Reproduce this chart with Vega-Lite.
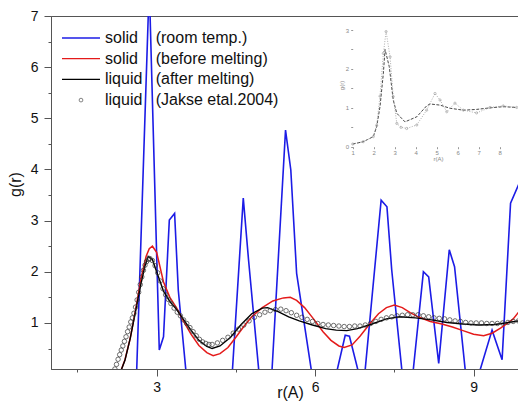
{
  "$schema": "https://vega.github.io/schema/vega-lite/v6.json",
  "width": 468,
  "height": 353,
  "autosize": "none",
  "padding": {"left": 51, "top": 16, "right": 0, "bottom": 32},
  "background": "white",
  "config": {"font": "Liberation Sans", "view": {"stroke": "#555", "strokeWidth": 1}, "axis": {"grid": false, "labelFont": "Liberation Sans", "titleFont": "Liberation Sans"}, "legend": {"labelFont": "Liberation Sans"}},
  "datasets": {
    "lines": [
      {"s": "solid (room temp.)", "r": 2.62, "g": 0},
      {"s": "solid (room temp.)", "r": 2.86, "g": 7.6},
      {"s": "solid (room temp.)", "r": 3.05, "g": 0.47},
      {"s": "solid (room temp.)", "r": 3.13, "g": 0.73},
      {"s": "solid (room temp.)", "r": 3.24, "g": 3.01},
      {"s": "solid (room temp.)", "r": 3.34, "g": 3.14},
      {"s": "solid (room temp.)", "r": 3.41, "g": 1.64},
      {"s": "solid (room temp.)", "r": 3.56, "g": 0},
      {"s": "solid (room temp.)", "r": 4.43, "g": 0},
      {"s": "solid (room temp.)", "r": 4.64, "g": 3.44},
      {"s": "solid (room temp.)", "r": 4.74, "g": 2.23},
      {"s": "solid (room temp.)", "r": 4.94, "g": 0},
      {"s": "solid (room temp.)", "r": 5.18, "g": 0},
      {"s": "solid (room temp.)", "r": 5.44, "g": 4.77},
      {"s": "solid (room temp.)", "r": 5.54, "g": 3.99},
      {"s": "solid (room temp.)", "r": 5.65, "g": 1.97},
      {"s": "solid (room temp.)", "r": 5.94, "g": 0},
      {"s": "solid (room temp.)", "r": 6.40, "g": 0},
      {"s": "solid (room temp.)", "r": 6.57, "g": 0.76},
      {"s": "solid (room temp.)", "r": 6.65, "g": 0.74},
      {"s": "solid (room temp.)", "r": 6.83, "g": 0},
      {"s": "solid (room temp.)", "r": 6.94, "g": 0},
      {"s": "solid (room temp.)", "r": 7.25, "g": 3.40},
      {"s": "solid (room temp.)", "r": 7.36, "g": 3.27},
      {"s": "solid (room temp.)", "r": 7.45, "g": 2.04},
      {"s": "solid (room temp.)", "r": 7.65, "g": 0},
      {"s": "solid (room temp.)", "r": 7.85, "g": 0},
      {"s": "solid (room temp.)", "r": 8.05, "g": 2.00},
      {"s": "solid (room temp.)", "r": 8.15, "g": 1.90},
      {"s": "solid (room temp.)", "r": 8.34, "g": 0.21},
      {"s": "solid (room temp.)", "r": 8.54, "g": 2.43},
      {"s": "solid (room temp.)", "r": 8.64, "g": 2.10},
      {"s": "solid (room temp.)", "r": 8.85, "g": 0},
      {"s": "solid (room temp.)", "r": 9.10, "g": 0},
      {"s": "solid (room temp.)", "r": 9.35, "g": 0.86},
      {"s": "solid (room temp.)", "r": 9.54, "g": 0.28},
      {"s": "solid (room temp.)", "r": 9.70, "g": 3.34},
      {"s": "solid (room temp.)", "r": 9.86, "g": 3.72},
      {"s": "solid (before melting)", "r": 2.30, "g": 0},
      {"s": "solid (before melting)", "r": 2.40, "g": 0.28},
      {"s": "solid (before melting)", "r": 2.50, "g": 0.70},
      {"s": "solid (before melting)", "r": 2.60, "g": 1.25},
      {"s": "solid (before melting)", "r": 2.70, "g": 1.85},
      {"s": "solid (before melting)", "r": 2.80, "g": 2.30},
      {"s": "solid (before melting)", "r": 2.86, "g": 2.45},
      {"s": "solid (before melting)", "r": 2.92, "g": 2.50},
      {"s": "solid (before melting)", "r": 3.00, "g": 2.38},
      {"s": "solid (before melting)", "r": 3.13, "g": 1.80},
      {"s": "solid (before melting)", "r": 3.25, "g": 1.50},
      {"s": "solid (before melting)", "r": 3.38, "g": 1.29},
      {"s": "solid (before melting)", "r": 3.50, "g": 1.05},
      {"s": "solid (before melting)", "r": 3.65, "g": 0.78},
      {"s": "solid (before melting)", "r": 3.80, "g": 0.56},
      {"s": "solid (before melting)", "r": 3.95, "g": 0.42},
      {"s": "solid (before melting)", "r": 4.07, "g": 0.36},
      {"s": "solid (before melting)", "r": 4.20, "g": 0.40},
      {"s": "solid (before melting)", "r": 4.35, "g": 0.52},
      {"s": "solid (before melting)", "r": 4.50, "g": 0.72},
      {"s": "solid (before melting)", "r": 4.65, "g": 0.93},
      {"s": "solid (before melting)", "r": 4.80, "g": 1.12},
      {"s": "solid (before melting)", "r": 5.00, "g": 1.30},
      {"s": "solid (before melting)", "r": 5.20, "g": 1.43},
      {"s": "solid (before melting)", "r": 5.40, "g": 1.49},
      {"s": "solid (before melting)", "r": 5.53, "g": 1.50},
      {"s": "solid (before melting)", "r": 5.65, "g": 1.44},
      {"s": "solid (before melting)", "r": 5.80, "g": 1.30},
      {"s": "solid (before melting)", "r": 5.97, "g": 1.08},
      {"s": "solid (before melting)", "r": 6.15, "g": 0.83},
      {"s": "solid (before melting)", "r": 6.30, "g": 0.66},
      {"s": "solid (before melting)", "r": 6.45, "g": 0.55},
      {"s": "solid (before melting)", "r": 6.55, "g": 0.52},
      {"s": "solid (before melting)", "r": 6.70, "g": 0.57},
      {"s": "solid (before melting)", "r": 6.85, "g": 0.74},
      {"s": "solid (before melting)", "r": 7.04, "g": 0.99},
      {"s": "solid (before melting)", "r": 7.20, "g": 1.18},
      {"s": "solid (before melting)", "r": 7.35, "g": 1.30},
      {"s": "solid (before melting)", "r": 7.50, "g": 1.35},
      {"s": "solid (before melting)", "r": 7.65, "g": 1.30},
      {"s": "solid (before melting)", "r": 7.80, "g": 1.20},
      {"s": "solid (before melting)", "r": 7.95, "g": 1.12},
      {"s": "solid (before melting)", "r": 8.18, "g": 1.03},
      {"s": "solid (before melting)", "r": 8.40, "g": 0.98},
      {"s": "solid (before melting)", "r": 8.60, "g": 0.92},
      {"s": "solid (before melting)", "r": 8.80, "g": 0.85},
      {"s": "solid (before melting)", "r": 9.00, "g": 0.78},
      {"s": "solid (before melting)", "r": 9.19, "g": 0.75},
      {"s": "solid (before melting)", "r": 9.35, "g": 0.80},
      {"s": "solid (before melting)", "r": 9.51, "g": 0.90},
      {"s": "solid (before melting)", "r": 9.65, "g": 1.00},
      {"s": "solid (before melting)", "r": 9.75, "g": 1.08},
      {"s": "solid (before melting)", "r": 9.86, "g": 1.22},
      {"s": "liquid (after melting)", "r": 2.30, "g": 0},
      {"s": "liquid (after melting)", "r": 2.40, "g": 0.27},
      {"s": "liquid (after melting)", "r": 2.50, "g": 0.70},
      {"s": "liquid (after melting)", "r": 2.60, "g": 1.22},
      {"s": "liquid (after melting)", "r": 2.70, "g": 1.75},
      {"s": "liquid (after melting)", "r": 2.78, "g": 2.12},
      {"s": "liquid (after melting)", "r": 2.84, "g": 2.30},
      {"s": "liquid (after melting)", "r": 2.92, "g": 2.24},
      {"s": "liquid (after melting)", "r": 3.00, "g": 2.00},
      {"s": "liquid (after melting)", "r": 3.13, "g": 1.62},
      {"s": "liquid (after melting)", "r": 3.25, "g": 1.42},
      {"s": "liquid (after melting)", "r": 3.38, "g": 1.26},
      {"s": "liquid (after melting)", "r": 3.50, "g": 1.08},
      {"s": "liquid (after melting)", "r": 3.65, "g": 0.86},
      {"s": "liquid (after melting)", "r": 3.80, "g": 0.66},
      {"s": "liquid (after melting)", "r": 3.95, "g": 0.54},
      {"s": "liquid (after melting)", "r": 4.05, "g": 0.50},
      {"s": "liquid (after melting)", "r": 4.20, "g": 0.55},
      {"s": "liquid (after melting)", "r": 4.40, "g": 0.72},
      {"s": "liquid (after melting)", "r": 4.60, "g": 0.97},
      {"s": "liquid (after melting)", "r": 4.80, "g": 1.18},
      {"s": "liquid (after melting)", "r": 5.00, "g": 1.29},
      {"s": "liquid (after melting)", "r": 5.10, "g": 1.30},
      {"s": "liquid (after melting)", "r": 5.30, "g": 1.22},
      {"s": "liquid (after melting)", "r": 5.50, "g": 1.12},
      {"s": "liquid (after melting)", "r": 5.70, "g": 1.04},
      {"s": "liquid (after melting)", "r": 5.95, "g": 0.96},
      {"s": "liquid (after melting)", "r": 6.20, "g": 0.89},
      {"s": "liquid (after melting)", "r": 6.40, "g": 0.86},
      {"s": "liquid (after melting)", "r": 6.60, "g": 0.85},
      {"s": "liquid (after melting)", "r": 6.80, "g": 0.89},
      {"s": "liquid (after melting)", "r": 7.05, "g": 0.97},
      {"s": "liquid (after melting)", "r": 7.35, "g": 1.08},
      {"s": "liquid (after melting)", "r": 7.60, "g": 1.12},
      {"s": "liquid (after melting)", "r": 7.90, "g": 1.10},
      {"s": "liquid (after melting)", "r": 8.20, "g": 1.06},
      {"s": "liquid (after melting)", "r": 8.50, "g": 1.01},
      {"s": "liquid (after melting)", "r": 8.80, "g": 0.98},
      {"s": "liquid (after melting)", "r": 9.10, "g": 0.96},
      {"s": "liquid (after melting)", "r": 9.40, "g": 0.97},
      {"s": "liquid (after melting)", "r": 9.60, "g": 1.00},
      {"s": "liquid (after melting)", "r": 9.86, "g": 1.04}
    ],
    "jakse": [
      {"s": "liquid (Jakse etal.2004)", "r": 2.21, "g": 0.10},
      {"s": "liquid (Jakse etal.2004)", "r": 2.24, "g": 0.19},
      {"s": "liquid (Jakse etal.2004)", "r": 2.27, "g": 0.29},
      {"s": "liquid (Jakse etal.2004)", "r": 2.30, "g": 0.38},
      {"s": "liquid (Jakse etal.2004)", "r": 2.33, "g": 0.47},
      {"s": "liquid (Jakse etal.2004)", "r": 2.36, "g": 0.55},
      {"s": "liquid (Jakse etal.2004)", "r": 2.39, "g": 0.64},
      {"s": "liquid (Jakse etal.2004)", "r": 2.42, "g": 0.73},
      {"s": "liquid (Jakse etal.2004)", "r": 2.45, "g": 0.83},
      {"s": "liquid (Jakse etal.2004)", "r": 2.48, "g": 0.92},
      {"s": "liquid (Jakse etal.2004)", "r": 2.51, "g": 1.02},
      {"s": "liquid (Jakse etal.2004)", "r": 2.54, "g": 1.10},
      {"s": "liquid (Jakse etal.2004)", "r": 2.57, "g": 1.19},
      {"s": "liquid (Jakse etal.2004)", "r": 2.60, "g": 1.31},
      {"s": "liquid (Jakse etal.2004)", "r": 2.63, "g": 1.45},
      {"s": "liquid (Jakse etal.2004)", "r": 2.66, "g": 1.60},
      {"s": "liquid (Jakse etal.2004)", "r": 2.69, "g": 1.75},
      {"s": "liquid (Jakse etal.2004)", "r": 2.72, "g": 1.90},
      {"s": "liquid (Jakse etal.2004)", "r": 2.75, "g": 2.03},
      {"s": "liquid (Jakse etal.2004)", "r": 2.78, "g": 2.13},
      {"s": "liquid (Jakse etal.2004)", "r": 2.81, "g": 2.20},
      {"s": "liquid (Jakse etal.2004)", "r": 2.84, "g": 2.24},
      {"s": "liquid (Jakse etal.2004)", "r": 2.87, "g": 2.26},
      {"s": "liquid (Jakse etal.2004)", "r": 2.92, "g": 2.22},
      {"s": "liquid (Jakse etal.2004)", "r": 2.97, "g": 2.12},
      {"s": "liquid (Jakse etal.2004)", "r": 3.02, "g": 1.98},
      {"s": "liquid (Jakse etal.2004)", "r": 3.07, "g": 1.82},
      {"s": "liquid (Jakse etal.2004)", "r": 3.12, "g": 1.67},
      {"s": "liquid (Jakse etal.2004)", "r": 3.17, "g": 1.55},
      {"s": "liquid (Jakse etal.2004)", "r": 3.22, "g": 1.46},
      {"s": "liquid (Jakse etal.2004)", "r": 3.27, "g": 1.38},
      {"s": "liquid (Jakse etal.2004)", "r": 3.33, "g": 1.29},
      {"s": "liquid (Jakse etal.2004)", "r": 3.39, "g": 1.21},
      {"s": "liquid (Jakse etal.2004)", "r": 3.45, "g": 1.14},
      {"s": "liquid (Jakse etal.2004)", "r": 3.51, "g": 1.06},
      {"s": "liquid (Jakse etal.2004)", "r": 3.57, "g": 0.99},
      {"s": "liquid (Jakse etal.2004)", "r": 3.63, "g": 0.91},
      {"s": "liquid (Jakse etal.2004)", "r": 3.69, "g": 0.83},
      {"s": "liquid (Jakse etal.2004)", "r": 3.75, "g": 0.75},
      {"s": "liquid (Jakse etal.2004)", "r": 3.81, "g": 0.68},
      {"s": "liquid (Jakse etal.2004)", "r": 3.87, "g": 0.63},
      {"s": "liquid (Jakse etal.2004)", "r": 3.93, "g": 0.60},
      {"s": "liquid (Jakse etal.2004)", "r": 3.99, "g": 0.58},
      {"s": "liquid (Jakse etal.2004)", "r": 4.05, "g": 0.58},
      {"s": "liquid (Jakse etal.2004)", "r": 4.15, "g": 0.61},
      {"s": "liquid (Jakse etal.2004)", "r": 4.25, "g": 0.66},
      {"s": "liquid (Jakse etal.2004)", "r": 4.35, "g": 0.72},
      {"s": "liquid (Jakse etal.2004)", "r": 4.45, "g": 0.80},
      {"s": "liquid (Jakse etal.2004)", "r": 4.55, "g": 0.88},
      {"s": "liquid (Jakse etal.2004)", "r": 4.65, "g": 0.96},
      {"s": "liquid (Jakse etal.2004)", "r": 4.75, "g": 1.04},
      {"s": "liquid (Jakse etal.2004)", "r": 4.85, "g": 1.11},
      {"s": "liquid (Jakse etal.2004)", "r": 4.95, "g": 1.16},
      {"s": "liquid (Jakse etal.2004)", "r": 5.05, "g": 1.21},
      {"s": "liquid (Jakse etal.2004)", "r": 5.15, "g": 1.24},
      {"s": "liquid (Jakse etal.2004)", "r": 5.25, "g": 1.26},
      {"s": "liquid (Jakse etal.2004)", "r": 5.35, "g": 1.27},
      {"s": "liquid (Jakse etal.2004)", "r": 5.45, "g": 1.24},
      {"s": "liquid (Jakse etal.2004)", "r": 5.55, "g": 1.20},
      {"s": "liquid (Jakse etal.2004)", "r": 5.65, "g": 1.15},
      {"s": "liquid (Jakse etal.2004)", "r": 5.75, "g": 1.11},
      {"s": "liquid (Jakse etal.2004)", "r": 5.85, "g": 1.07},
      {"s": "liquid (Jakse etal.2004)", "r": 5.95, "g": 1.03},
      {"s": "liquid (Jakse etal.2004)", "r": 6.05, "g": 0.99},
      {"s": "liquid (Jakse etal.2004)", "r": 6.15, "g": 0.97},
      {"s": "liquid (Jakse etal.2004)", "r": 6.25, "g": 0.96},
      {"s": "liquid (Jakse etal.2004)", "r": 6.35, "g": 0.95},
      {"s": "liquid (Jakse etal.2004)", "r": 6.45, "g": 0.94},
      {"s": "liquid (Jakse etal.2004)", "r": 6.55, "g": 0.93},
      {"s": "liquid (Jakse etal.2004)", "r": 6.65, "g": 0.93},
      {"s": "liquid (Jakse etal.2004)", "r": 6.75, "g": 0.94},
      {"s": "liquid (Jakse etal.2004)", "r": 6.85, "g": 0.94},
      {"s": "liquid (Jakse etal.2004)", "r": 6.95, "g": 0.96},
      {"s": "liquid (Jakse etal.2004)", "r": 7.05, "g": 0.99},
      {"s": "liquid (Jakse etal.2004)", "r": 7.15, "g": 1.03},
      {"s": "liquid (Jakse etal.2004)", "r": 7.25, "g": 1.07},
      {"s": "liquid (Jakse etal.2004)", "r": 7.35, "g": 1.10},
      {"s": "liquid (Jakse etal.2004)", "r": 7.45, "g": 1.12},
      {"s": "liquid (Jakse etal.2004)", "r": 7.55, "g": 1.14},
      {"s": "liquid (Jakse etal.2004)", "r": 7.65, "g": 1.15},
      {"s": "liquid (Jakse etal.2004)", "r": 7.75, "g": 1.16},
      {"s": "liquid (Jakse etal.2004)", "r": 7.85, "g": 1.16},
      {"s": "liquid (Jakse etal.2004)", "r": 7.95, "g": 1.16},
      {"s": "liquid (Jakse etal.2004)", "r": 8.05, "g": 1.14},
      {"s": "liquid (Jakse etal.2004)", "r": 8.15, "g": 1.12},
      {"s": "liquid (Jakse etal.2004)", "r": 8.25, "g": 1.10},
      {"s": "liquid (Jakse etal.2004)", "r": 8.35, "g": 1.09},
      {"s": "liquid (Jakse etal.2004)", "r": 8.45, "g": 1.08},
      {"s": "liquid (Jakse etal.2004)", "r": 8.55, "g": 1.06},
      {"s": "liquid (Jakse etal.2004)", "r": 8.65, "g": 1.04},
      {"s": "liquid (Jakse etal.2004)", "r": 8.75, "g": 1.03},
      {"s": "liquid (Jakse etal.2004)", "r": 8.85, "g": 1.01},
      {"s": "liquid (Jakse etal.2004)", "r": 8.95, "g": 1.00},
      {"s": "liquid (Jakse etal.2004)", "r": 9.05, "g": 1.00},
      {"s": "liquid (Jakse etal.2004)", "r": 9.15, "g": 1.00},
      {"s": "liquid (Jakse etal.2004)", "r": 9.25, "g": 0.99},
      {"s": "liquid (Jakse etal.2004)", "r": 9.35, "g": 0.99},
      {"s": "liquid (Jakse etal.2004)", "r": 9.45, "g": 0.99},
      {"s": "liquid (Jakse etal.2004)", "r": 9.55, "g": 1.00},
      {"s": "liquid (Jakse etal.2004)", "r": 9.65, "g": 1.01},
      {"s": "liquid (Jakse etal.2004)", "r": 9.75, "g": 1.03},
      {"s": "liquid (Jakse etal.2004)", "r": 9.85, "g": 1.04}
    ],
    "inset1": [
      {"ix": 1.0, "iy": 0.07}, {"ix": 1.5, "iy": 0.13}, {"ix": 1.98, "iy": 0.26}, {"ix": 2.14, "iy": 0.51},
      {"ix": 2.30, "iy": 1.03}, {"ix": 2.46, "iy": 1.89}, {"ix": 2.54, "iy": 2.50}, {"ix": 2.74, "iy": 2.06},
      {"ix": 2.93, "iy": 1.20}, {"ix": 3.10, "iy": 0.86}, {"ix": 3.49, "iy": 0.64}, {"ix": 4.05, "iy": 0.77},
      {"ix": 4.52, "iy": 1.05}, {"ix": 4.68, "iy": 1.10}, {"ix": 5.16, "iy": 1.07}, {"ix": 5.63, "iy": 0.99},
      {"ix": 6.27, "iy": 0.94}, {"ix": 6.90, "iy": 0.96}, {"ix": 7.54, "iy": 1.00}, {"ix": 8.17, "iy": 1.03},
      {"ix": 8.81, "iy": 1.01}
    ],
    "inset2": [
      {"ix": 1.0, "iy": 0.07}, {"ix": 1.5, "iy": 0.13}, {"ix": 1.98, "iy": 0.26}, {"ix": 2.14, "iy": 0.55},
      {"ix": 2.30, "iy": 1.30}, {"ix": 2.46, "iy": 2.40}, {"ix": 2.59, "iy": 2.96}, {"ix": 2.78, "iy": 2.31},
      {"ix": 2.93, "iy": 1.29}, {"ix": 3.10, "iy": 0.60}, {"ix": 3.30, "iy": 0.50}, {"ix": 3.57, "iy": 0.47},
      {"ix": 4.05, "iy": 0.56}, {"ix": 4.52, "iy": 0.94}, {"ix": 4.92, "iy": 1.37}, {"ix": 5.16, "iy": 1.20},
      {"ix": 5.48, "iy": 0.90}, {"ix": 5.87, "iy": 1.12}, {"ix": 6.27, "iy": 0.94}, {"ix": 6.90, "iy": 0.87},
      {"ix": 7.54, "iy": 1.01}, {"ix": 8.17, "iy": 1.05}, {"ix": 8.81, "iy": 1.01}
    ]
  },
  "layer": [
    {
      "encoding": {
        "x": {
          "field": "r", "type": "quantitative", "title": "r(A)",
          "scale": {"domain": [1, 9.86], "nice": false, "zero": false},
          "axis": {
            "values": [1.5, 3, 4.5, 6, 7.5, 9],
            "labelExpr": "datum.value % 3 === 0 ? '' + datum.value : ''",
            "tickSize": {"condition": {"test": "datum.value % 3 === 0", "value": 7}, "value": 3},
            "labelFontSize": 14, "labelColor": "#111", "labelPadding": 4, "labelFlush": false, "labelOverlap": false,
            "titleFontSize": 16, "titleFontWeight": "normal", "titleColor": "#111",
            "titleX": 239, "titleY": 15, "titleBaseline": "top",
            "domainColor": "#555", "tickColor": "#555", "grid": false
          }
        },
        "y": {
          "field": "g", "type": "quantitative", "title": "g(r)",
          "scale": {"domain": [0.1, 7], "nice": false, "zero": false},
          "axis": {
            "values": [0.5, 1, 1.5, 2, 2.5, 3, 3.5, 4, 4.5, 5, 5.5, 6, 6.5, 7],
            "labelExpr": "datum.value % 1 === 0 ? '' + datum.value : ''",
            "tickSize": {"condition": {"test": "datum.value % 1 === 0", "value": 7}, "value": 3},
            "labelFontSize": 14, "labelColor": "#111", "labelPadding": 6, "labelFlush": false, "labelOverlap": false,
            "titleFontSize": 16, "titleFontWeight": "normal", "titleColor": "#111",
            "titleX": -36, "titleY": 168, "titleBaseline": "middle", "titleAngle": -90,
            "domainColor": "#555", "tickColor": "#555", "grid": false
          }
        },
        "color": {
          "field": "s", "type": "nominal",
          "scale": {
            "domain": ["solid (room temp.)", "solid (before melting)", "liquid (after melting)", "liquid (Jakse etal.2004)"],
            "range": ["#1c1ce6", "#e41a1a", "#000000", "#333333"]
          },
          "legend": {
            "orient": "none", "legendX": 11, "legendY": 13, "title": null, "padding": 0,
            "symbolType": "stroke", "symbolSize": 1444, "symbolStrokeWidth": 1.5,
            "clipHeight": 18, "rowPadding": 2.7,
            "labelFontSize": 16, "labelColor": "#111", "labelOffset": 5, "labelLimit": 300,
            "labelExpr": "indexof(datum.label, 'solid') === 0 ? replace(datum.label, ' (', '\u00a0\u00a0\u00a0\u00a0(') : replace(datum.label, ' (', '\u00a0\u00a0\u00a0(')",
            "encode": {
              "symbols": {
                "update": {
                  "x": {"value": 19},
                  "shape": {"signal": "datum.value === 'liquid (Jakse etal.2004)' ? 'circle' : 'stroke'"},
                  "size": {"signal": "datum.value === 'liquid (Jakse etal.2004)' ? 14 : 1444"},
                  "strokeWidth": {"signal": "datum.value === 'liquid (Jakse etal.2004)' ? 0.6 : datum.value === 'solid (room temp.)' ? 1.5 : 1.2"},
                  "fill": {"value": "transparent"}
                }
              },
              "labels": {
                "update": {
                  "x": {"value": 43}
                }
              }
            }
          }
        }
      },
      "layer": [
        {
          "data": {"name": "lines"},
          "mark": {"type": "line", "clip": true},
          "encoding": {
            "strokeWidth": {"field": "s", "type": "nominal", "legend": null,
              "scale": {"domain": ["solid (room temp.)", "solid (before melting)", "liquid (after melting)"], "range": [1.6, 1.4, 1.2]}}
          }
        },
        {"data": {"name": "jakse"}, "mark": {"type": "point", "clip": true, "filled": false, "size": 20, "strokeWidth": 0.7, "opacity": 1}}
      ]
    },
    {
      "layer": [
        {
          "mark": {"type": "rect", "fill": "white", "stroke": "#888", "strokeWidth": 1},
          "encoding": {
            "x": {"datum": 1, "type": "quantitative", "title": "r(A)",
              "scale": {"domain": [-13.37, 8.92], "nice": false, "zero": false},
              "axis": {"orient": "bottom", "offset": -222.3, "values": [1, 2, 3, 4, 5, 6, 7, 8], "domain": false,
                "tickSize": 2, "tickColor": "#999", "labelFontSize": 6, "labelColor": "#888", "labelPadding": 1, "labelFlush": false,
                "titleFontSize": 6, "titleColor": "#888", "titleFontWeight": "normal", "titleX": 387, "titleY": 9, "titleBaseline": "top"}},
            "x2": {"datum": 9.6},
            "y": {"datum": 0, "type": "quantitative", "title": "g(r)",
              "scale": {"domain": [-5.71, 3.36], "nice": false, "zero": false},
              "axis": {"orient": "left", "offset": -301.7, "values": [0, 0.5, 1, 1.5, 2, 2.5, 3], "domain": false,
                "labelExpr": "datum.value % 1 === 0 ? '' + datum.value : ''",
                "tickSize": 2, "tickColor": "#999", "labelFontSize": 6, "labelColor": "#888", "labelPadding": 2, "labelFlush": false,
                "titleFontSize": 6, "titleColor": "#888", "titleFontWeight": "normal", "titleX": -11, "titleY": 69, "titleBaseline": "middle", "titleAngle": -90}},
            "y2": {"datum": 3.19}
          }
        },
        {
          "data": {"name": "inset1"},
          "mark": {"type": "line", "stroke": "#333", "strokeWidth": 0.9, "strokeDash": [3, 1.5]},
          "encoding": {
            "x": {"field": "ix", "type": "quantitative", "title": "r(A)"},
            "y": {"field": "iy", "type": "quantitative", "title": "g(r)"}
          }
        },
        {
          "data": {"name": "inset2"},
          "mark": {"type": "line", "stroke": "#999", "strokeWidth": 0.8, "strokeDash": [1, 1.5], "point": {"filled": false, "size": 5, "stroke": "#999", "strokeWidth": 0.6}},
          "encoding": {
            "x": {"field": "ix", "type": "quantitative", "title": "r(A)"},
            "y": {"field": "iy", "type": "quantitative", "title": "g(r)"}
          }
        }
      ]
    }
  ],
  "resolve": {"scale": {"x": "independent", "y": "independent", "color": "independent", "strokeWidth": "independent"}}
}
